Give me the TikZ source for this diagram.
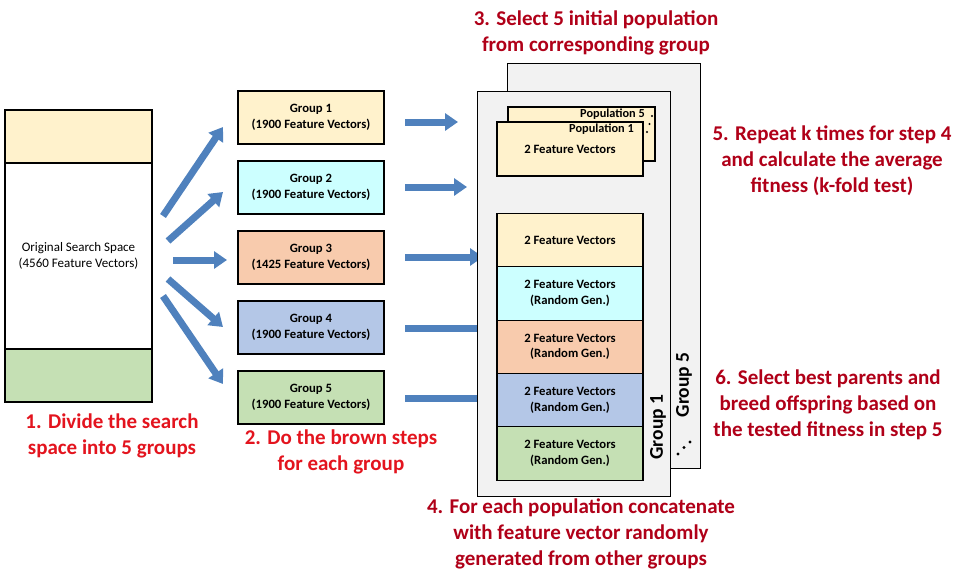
\documentclass[tikz,border=0pt]{standalone}
\usepackage{fontspec}
\setmainfont{Carlito}
\usetikzlibrary{arrows.meta, positioning}
\definecolor{yel}{HTML}{FFF2CC}
\definecolor{cya}{HTML}{CCFFFF}
\definecolor{ora}{HTML}{F8CBAD}
\definecolor{blu}{HTML}{B4C7E7}
\definecolor{gre}{HTML}{C5E0B4}
\definecolor{panegray}{HTML}{F2F2F2}
\definecolor{arrblue}{HTML}{4F81BD}
\definecolor{brightred}{HTML}{E3141E}
\definecolor{darkred}{HTML}{B00018}

\begin{document}
\begin{tikzpicture}[x=1pt, y=-1pt,
      box/.style={draw, line width=1.1pt, outer sep=0pt, inner sep=0pt, minimum width=146pt, minimum height=53pt, align=center, font=\fontsize{12.7}{15.8}\selectfont\bfseries},
      pane/.style={draw, line width=0.9pt, fill=panegray, outer sep=0pt, minimum width=193pt, minimum height=405pt},
      blk/.style={line width=7pt, draw=arrblue, -{Triangle[length=13pt, width=17pt]}},
      note/.style={align=center, font=\fontsize{21}{26}\selectfont\bfseries},
      vert/.style={rotate=90, font=\fontsize{19.5}{22}\selectfont\bfseries},
    ]
      \useasboundingbox (0,0) rectangle (958,574);
      % search space
      \node[box, fill=white, minimum width=147pt, minimum height=292pt, font=\fontsize{13}{16}\selectfont] (orig) at (78.5,256) {Original Search Space\\(4560 Feature Vectors)};
      \node[box, fill=yel, minimum width=147pt, anchor=north] (top) at (orig.north) {};
      \node[box, fill=gre, minimum width=147pt, anchor=south] (bot) at (orig.south) {};
      % groups
      \node[box, fill=yel] (g1) at (311,117.5) {Group 1\\(1900 Feature Vectors)};
      \node[box, fill=cya] (g2) at (311,187.5) {Group 2\\(1900 Feature Vectors)};
      \node[box, fill=ora] (g3) at (311,257.5) {Group 3\\(1425 Feature Vectors)};
      \node[box, fill=blu] (g4) at (311,327.5) {Group 4\\(1900 Feature Vectors)};
      \node[box, fill=gre] (g5) at (311,397.5) {Group 5\\(1900 Feature Vectors)};
      \draw[blk] ([shift={(11,-40)}]orig.east) -- ([shift={(-15,9.5)}]g1.west);
      \draw[blk] ([shift={(16,-15)}]orig.east) -- ([shift={(-15,4.5)}]g2.west);
      \draw[blk] ([shift={(21,4)}]orig.east) -- ([shift={(-11,2.5)}]g3.west);
      \draw[blk] ([shift={(16,23)}]orig.east) -- ([shift={(-15,-0.5)}]g4.west);
      \draw[blk] ([shift={(11,40)}]orig.east) -- ([shift={(-15,-13.5)}]g5.west);
      \draw[blk] ([shift={(21,4.5)}]g1.east) -- +(53,0);
      \draw[blk] ([shift={(21,-0.5)}]g2.east) -- +(62,0);
      \draw[blk] ([shift={(21,-0.5)}]g3.east) -- +(78,0);
      \draw[blk] ([shift={(21,0.5)}]g4.east) -- +(85,0);
      \draw[blk] ([shift={(21,0.5)}]g5.east) -- +(95,0);
      % group panes
      \node[pane] (p5) at (603.5,265.5) {};
      \node[pane] (p1) at (573.5,293.5) {};
      \node[vert] at (684,385) {Group 5};
      \node[vert] at (658,427) {Group 1};
      \fill (678,454) circle (1.6) (684,447.5) circle (1.6) (690,442) circle (1.6);
      % populations
      \node[box, fill=yel, minimum width=147pt, minimum height=54pt] (pop5) at (581.5,134) {};
      \node[anchor=east, font=\fontsize{12.3}{14}\selectfont\bfseries, inner sep=0pt] at ([shift={(-10,7)}]pop5.north east) {Population 5};
      \fill (652,116) circle (1.1) (649.5,124) circle (1.1) (647,132) circle (1.1);
      \node[box, fill=yel, minimum width=146pt, minimum height=54pt] (pop1) at (570,149) {2 Feature Vectors};
      \node[anchor=east, font=\fontsize{12.3}{14}\selectfont\bfseries, inner sep=0pt] at ([shift={(-9,7)}]pop1.north east) {Population 1};
      % concatenated population
      \node[box, fill=yel, minimum height=53.4pt] (s1) at (570,240) {2 Feature Vectors};
      \node[box, fill=cya, minimum height=53.4pt, below=0pt of s1] (s2) {2 Feature Vectors\\(Random Gen.)};
      \node[box, fill=ora, minimum height=53.4pt, below=0pt of s2] (s3) {2 Feature Vectors\\(Random Gen.)};
      \node[box, fill=blu, minimum height=53.4pt, below=0pt of s3] (s4) {2 Feature Vectors\\(Random Gen.)};
      \node[box, fill=gre, minimum height=53.4pt, below=0pt of s4] (s5) {2 Feature Vectors\\(Random Gen.)};
      % step notes
      \node[note, text=brightred] (n1) at (112,436) {1. Divide the search\\space into 5 groups};
      \node[note, text=brightred] (n2) at (341,452) {2. Do the brown steps\\for each group};
      \node[note, text=darkred] (n3) at (596,33) {3. Select 5 initial population\\from corresponding group};
      \node[note, text=darkred] (n4) at (581,534) {4. For each population concatenate\\with feature vector randomly\\generated from other groups};
      \node[note, text=darkred] (n5) at (832,161) {5. Repeat k times for step 4\\and calculate the average\\fitness (k-fold test)};
      \node[note, text=darkred] (n6) at (828,405) {6. Select best parents and\\breed offspring based on\\the tested fitness in step 5};
    \end{tikzpicture}
\end{document}
